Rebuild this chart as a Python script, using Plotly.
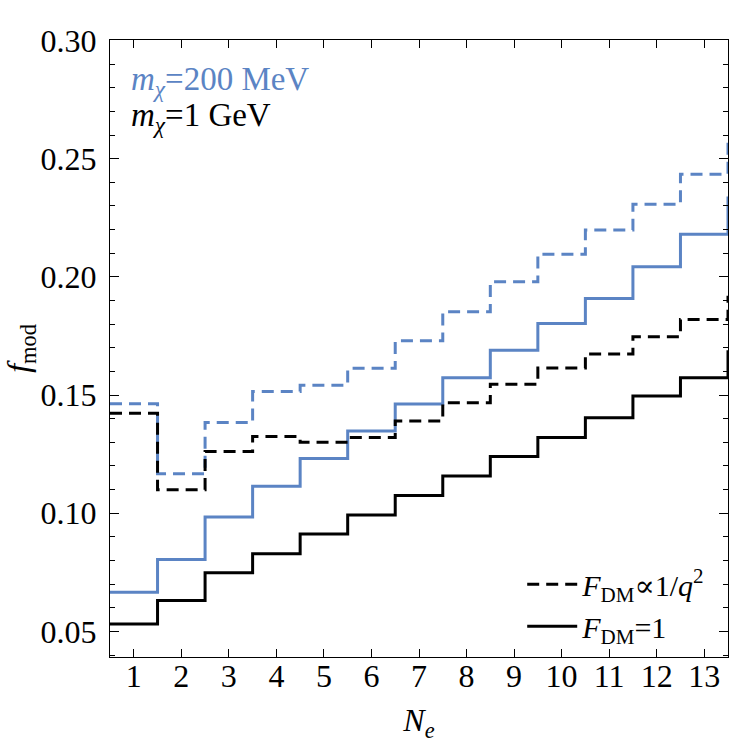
import plotly.graph_objects as go

# Bin index N_e (last entry is the bin just past the right edge, visible only as a rise)
n_e = list(range(1, 15))
x_ticks = list(range(1, 14))
y_ticks = [0.05, 0.10, 0.15, 0.20, 0.25, 0.30]

# f_mod values, m_chi = 200 MeV
blue_dashed = [0.1463, 0.1167, 0.1384, 0.1515, 0.1542, 0.1613, 0.1730, 0.1852,
               0.1979, 0.2096, 0.2198, 0.2307, 0.2434, 0.2570]
blue_solid = [0.0666, 0.0804, 0.0984, 0.1114, 0.1232, 0.1348, 0.1462, 0.1573,
              0.1690, 0.1803, 0.1909, 0.2043, 0.2180, 0.2340]
# f_mod values, m_chi = 1 GeV
black_dashed = [0.1423, 0.1100, 0.1261, 0.1325, 0.1300, 0.1320, 0.1390, 0.1468,
                0.1546, 0.1614, 0.1674, 0.1747, 0.1820, 0.1920]
black_solid = [0.0532, 0.0631, 0.0748, 0.0829, 0.0912, 0.0993, 0.1075, 0.1158,
               0.1240, 0.1320, 0.1404, 0.1496, 0.1573, 0.1690]

BLUE = "#5B84C4"
FONT = "Times New Roman, Liberation Serif, DejaVu Serif, serif"
edges = [n - 0.5 for n in n_e]

fig = go.Figure()
fig.add_trace(go.Scatter(x=edges, y=blue_dashed, mode="lines", line_shape="hv",
                         line=dict(color=BLUE, width=3, dash="12px,7px"), showlegend=False))
fig.add_trace(go.Scatter(x=edges, y=blue_solid, mode="lines", line_shape="hv",
                         line=dict(color=BLUE, width=3), showlegend=False))
fig.add_trace(go.Scatter(x=edges, y=black_dashed, mode="lines", line_shape="hv",
                         line=dict(color="black", width=3, dash="12px,7px"),
                         name="<i>F</i><sub>DM</sub>∝1/<i>q</i><sup>2</sup>"))
fig.add_trace(go.Scatter(x=edges, y=black_solid, mode="lines", line_shape="hv",
                         line=dict(color="black", width=3),
                         name="<i>F</i><sub>DM</sub>=1"))

tickfont = dict(family=FONT, size=32, color="black")
fig.update_layout(
    width=730, height=744,
    margin=dict(l=110, r=2, t=40, b=87),
    paper_bgcolor="white", plot_bgcolor="white",
    font=dict(family=FONT, size=32, color="black"),
    showlegend=True,
    legend=dict(x=0.667, y=0.16, xanchor="left", yanchor="top",
                bgcolor="rgba(0,0,0,0)", font=dict(family=FONT, size=30), itemwidth=50,
                tracegroupgap=0),
    xaxis=dict(range=[0.5, 13.5], tickvals=x_ticks, ticktext=[str(v) for v in x_ticks],
               tickfont=tickfont,
               ticks="inside", ticklen=8, tickwidth=1, tickcolor="black",
               showline=True, linecolor="black", linewidth=1.3, mirror="allticks",
               showgrid=False, zeroline=False, ticklabelstandoff=-10,
               title=dict(text="<i>N</i><sub><i>e</i></sub>", font=dict(family=FONT, size=32),
                          standoff=16)),
    yaxis=dict(range=[0.0392, 0.3002], tickvals=y_ticks, tickformat=".2f",
               tickfont=tickfont,
               ticks="inside", ticklen=9, tickwidth=1, tickcolor="black",
               minor=dict(dtick=0.01, tick0=0, ticks="inside", ticklen=5, tickcolor="black"),
               showline=True, linecolor="black", linewidth=1.3, mirror="allticks",
               showgrid=False, zeroline=False, ticklabelstandoff=6,
               title=dict(text="<i>f</i><sub>mod</sub>", font=dict(family=FONT, size=32),
                          standoff=4)),
    annotations=[
        dict(text="<i>m</i><sub><i>χ</i></sub>=200 MeV", xref="paper", yref="paper",
             x=0.031, y=0.933, xanchor="left", yanchor="middle", showarrow=False,
             font=dict(size=33, color=BLUE, family=FONT)),
        dict(text="<i>m</i><sub><i>χ</i></sub>=1 GeV", xref="paper", yref="paper",
             x=0.031, y=0.874, xanchor="left", yanchor="middle", showarrow=False,
             font=dict(size=33, color="black", family=FONT)),
    ],
)

fig.write_html("out.html")
